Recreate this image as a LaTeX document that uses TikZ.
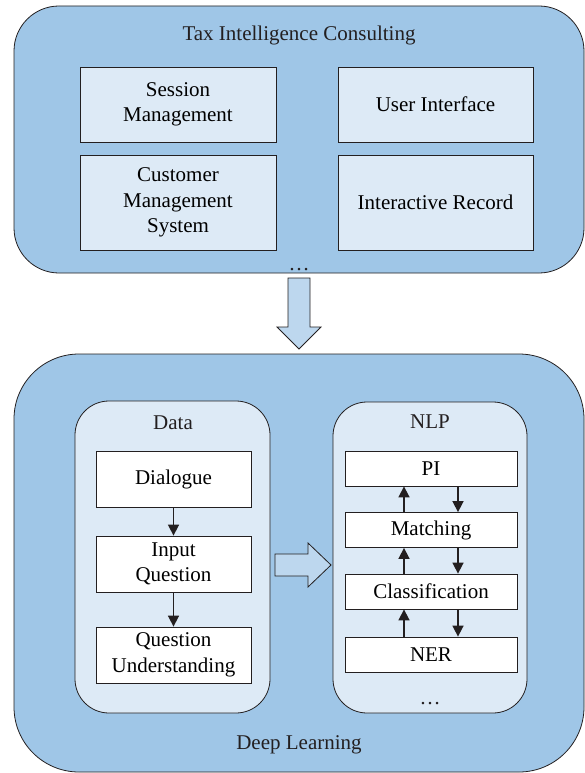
\documentclass[tikz,border=0pt]{standalone}
\usepackage{fontspec}
\setmainfont{Liberation Serif}
\usetikzlibrary{arrows.meta}

\definecolor{outerblue}{HTML}{9FC6E7}
\definecolor{innerblue}{HTML}{DDEAF6}
\definecolor{arrowblue}{HTML}{BDD7EE}
\definecolor{edgegray}{HTML}{231F20}

\tikzset{
  container/.style={draw=edgegray, line width=0.8pt, fill=outerblue, inner sep=0pt},
  group/.style={draw=edgegray, line width=0.8pt, fill=innerblue, inner sep=0pt, rounded corners=34pt},
  module/.style={draw=edgegray, line width=0.8pt, fill=innerblue, align=center, inner sep=0pt},
  stage/.style={draw=edgegray, line width=0.8pt, fill=white, align=center, inner sep=0pt},
  flow/.style={-{Triangle[length=11pt,width=11pt]}, line width=1.6pt, draw=edgegray},
  blockarrow/.style={draw=edgegray, line width=0.8pt, fill=arrowblue, line join=miter},
  title/.style={inner sep=0pt, text=edgegray}
}

\begin{document}
\begin{tikzpicture}[x=1pt, y=-1pt, every node/.append style={font=\fontsize{21}{25.5}\selectfont}]
        \useasboundingbox (0,0) rectangle (585,773);

        % tax intelligence consulting
        \node[container, rounded corners=45pt, minimum width=570pt, minimum height=267pt] (tic) at (299,139.5) {};
        \node[title] (ticname) at (299,35) {Tax Intelligence Consulting};
        \node[module, minimum width=196pt, minimum height=75pt] (sess) at (178,104.5) {Session\\Management};
        \node[module, minimum width=195pt, minimum height=75pt] (ui) at (435.5,104.5) {User Interface};
        \node[module, minimum width=196pt, minimum height=95pt] (cms) at (178,202.5) {Customer\\Management\\System};
        \node[module, minimum width=195pt, minimum height=95pt] (irec) at (435.5,202.5) {Interactive Record};
        \node[title] (ticdots) at (299,270) {\dots};

        \draw[blockarrow] (288,278) -- (310,278) -- (310,327) -- (321,327) -- (299,349) -- (277,327) -- (288,327) -- cycle;

        % deep learning
        \node[container, rounded corners=65pt, minimum width=570pt, minimum height=418pt] (dl) at (299,563) {};
        \node[title] (dlname) at (299,745) {Deep Learning};

        \node[group, minimum width=195pt, minimum height=312pt] (data) at (172.5,557) {};
        \node[title] (dataname) at (173,423) {Data};
        \node[stage, minimum width=155pt, minimum height=56pt] (dlg) at (173.5,479) {Dialogue};
        \node[stage, minimum width=155pt, minimum height=56pt] (inq) at (173.5,564) {Input\\Question};
        \node[stage, minimum width=155pt, minimum height=56pt] (qu) at (173.5,655) {Question\\Understanding};
        \draw[flow] (dlg) -- (inq);
        \draw[flow] (inq) -- (qu);

        \draw[blockarrow] (275,554) -- (308,554) -- (308,543) -- (331,565) -- (308,587) -- (308,576) -- (275,576) -- cycle;

        \node[group, minimum width=194pt, minimum height=311pt] (nlp) at (430,557.5) {};
        \node[title] (nlpname) at (430,422) {NLP};
        \node[stage, minimum width=172pt, minimum height=35pt] (pi) at (431,468.5) {PI};
        \node[stage, minimum width=172pt, minimum height=35pt] (match) at (431,530) {Matching};
        \node[stage, minimum width=172pt, minimum height=35pt] (cls) at (431,591.5) {Classification};
        \node[stage, minimum width=172pt, minimum height=35pt] (ner) at (431,654.5) {NER};
        \node[title] (nlpdots) at (430,704) {\dots};

        \draw[flow] ([xshift=-27pt]match.north) -- ([xshift=-27pt]pi.south);
        \draw[flow] ([xshift=27pt]pi.south) -- ([xshift=27pt]match.north);
        \draw[flow] ([xshift=-27pt]cls.north) -- ([xshift=-27pt]match.south);
        \draw[flow] ([xshift=27pt]match.south) -- ([xshift=27pt]cls.north);
        \draw[flow] ([xshift=-27pt]ner.north) -- ([xshift=-27pt]cls.south);
        \draw[flow] ([xshift=27pt]cls.south) -- ([xshift=27pt]ner.north);
\end{tikzpicture}
\end{document}
